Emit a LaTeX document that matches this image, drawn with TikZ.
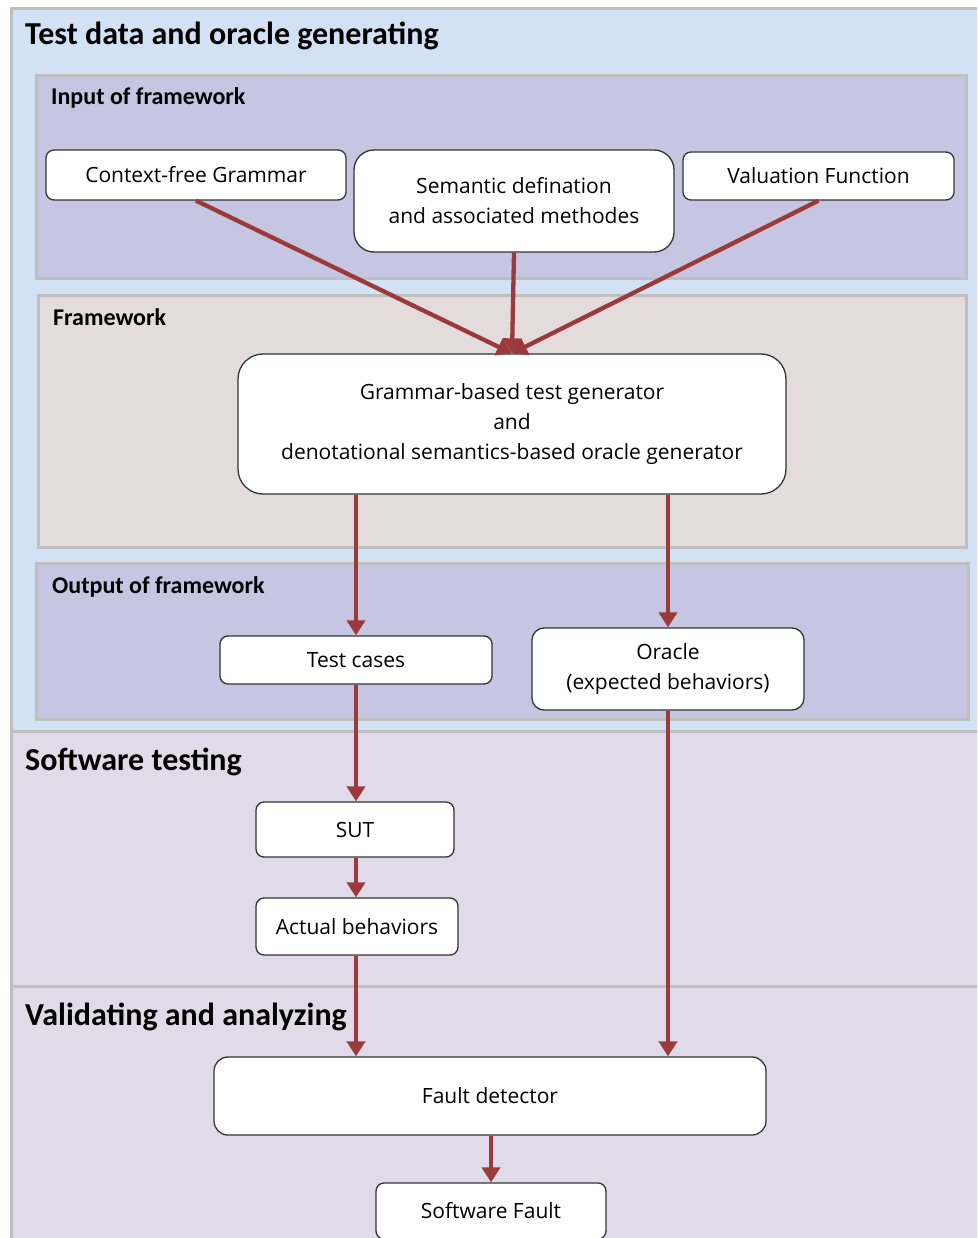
\documentclass[tikz,border=0pt]{standalone}
\usepackage{fontspec}
\setmainfont{Open Sans}
\newfontfamily\titlefont{Carlito}
\usetikzlibrary{arrows.meta}
\definecolor{regblue}{HTML}{D2E1F3}
\definecolor{reglav}{HTML}{C6C6E3}
\definecolor{regpink}{HTML}{E4DCDC}
\definecolor{reggray}{HTML}{E1DAE8}
\definecolor{bordgray}{HTML}{BFBFBF}
\definecolor{arrred}{HTML}{9A3A3A}
\definecolor{boxline}{HTML}{333333}
\tikzset{
  region/.style={draw=bordgray, line width=3pt},
  bigtitle/.style={anchor=base west, inner sep=0pt, font=\titlefont\bfseries\fontsize{32}{36}\selectfont},
  subtitle/.style={anchor=base west, inner sep=0pt, font=\titlefont\bfseries\fontsize{24}{28}\selectfont},
  box/.style={draw=boxline, fill=white, line width=1.3pt, rounded corners=8pt, align=center, inner sep=0pt,
    font=\fontsize{21}{30}\selectfont},
  arr/.style={draw=arrred, line width=4.3pt, -{Triangle[length=15pt,width=18pt]}}
}
\begin{document}
\begin{tikzpicture}[x=1pt,y=-1pt]
\useasboundingbox (0,0) rectangle (977,1238);
\clip (0,0) rectangle (977,1238);
\fill[white] (0,0) rectangle (977,1238);
% regions
\draw[region, fill=regblue] (11,9) rectangle (990,731);
\draw[region, fill=reggray] (11,731) rectangle (990,986);
\draw[region, fill=reggray] (11,986) rectangle (990,1250);
\draw[region, fill=reglav] (36,76) rectangle (966,279);
\draw[region, fill=regpink] (38,296) rectangle (966,547);
\draw[region, fill=reglav] (36,563) rectangle (968,719);
% titles
\node[bigtitle] (t1) at (25,45) {Test data and oracle generating};
\node[bigtitle] (t2) at (25,770) {Software testing};
\node[bigtitle] (t3) at (25,1025) {Validating and analyzing};
\node[subtitle] (s1) at (51,105) {Input of framework};
\node[subtitle] (s2) at (53,325) {Framework};
\node[subtitle] (s3) at (52,593) {Output of framework};
% boxes
\node[box, minimum width=300pt, minimum height=50pt] (cfg) at (196,175) {Context-free Grammar};
\node[box, rounded corners=20pt, minimum width=320pt, minimum height=102pt] (sem) at (514,201) {Semantic defination\\and associated methodes};
\node[box, minimum width=271pt, minimum height=48pt] (val) at (818.5,176) {Valuation Function};
\node[box, rounded corners=25pt, minimum width=548pt, minimum height=140pt] (gen) at (512,424) {Grammar-based test generator\\and\\denotational semantics-based oracle generator};
\node[box, minimum width=272pt, minimum height=48pt] (tc) at (356,660) {Test cases};
\node[box, rounded corners=12pt, minimum width=272pt, minimum height=82pt] (or) at (668,669) {Oracle\\(expected behaviors)};
\node[box, minimum width=198pt, minimum height=55pt] (sut) at (355,829.5) {SUT};
\node[box, minimum width=202pt, minimum height=57pt] (act) at (357,926.5) {Actual behaviors};
\node[box, rounded corners=14pt, minimum width=552pt, minimum height=78pt] (fd) at (490,1096) {Fault detector};
\node[box, minimum width=230pt, minimum height=56pt] (sf) at (491,1211) {Software Fault};
% connectors
\draw[arr] (cfg.south) -- (gen.north);
\draw[arr] (sem.south) -- (gen.north);
\draw[arr] (val.south) -- (gen.north);
\draw[arr] (gen.south -| tc.north) -- (tc.north);
\draw[arr] (gen.south -| or.north) -- (or.north);
\draw[arr] (tc.south) -- (tc.south |- sut.north);
\draw[arr] (sut.south -| tc.south) -- (tc.south |- act.north);
\draw[arr] (act.south -| tc.south) -- (tc.south |- fd.north);
\draw[arr] (or.south) -- (or.south |- fd.north);
\draw[arr] (fd.south -| sf.north) -- (sf.north);
\end{tikzpicture}
\end{document}
